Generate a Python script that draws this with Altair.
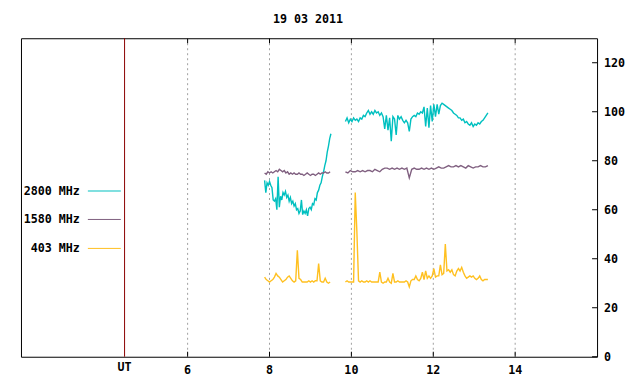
import altair as alt
import pandas as pd
import numpy as np

W, H = 577, 319
X_DOMAIN = [1.93, 16.0]
Y_DOMAIN = [0, 130]
FONT = "DejaVu Sans Mono"
FS = 11.7

title_text = "19 03 2011"
series_names = ["2800 MHz", "1580 MHz", "403 MHz"]
series_colors = ["#00c0c0", "#806080", "#ffc020"]

x_ticks = [6, 8, 10, 12, 14]
y_ticks = [0, 20, 40, 60, 80, 100, 120]
ut_hour = 4.46
ut_label = "UT"

# 2800 MHz, first segment (start hour, step in hours, values)
f2800_a_start, f2800_a_step = 7.88, 0.03
f2800_a = [72, 67, 71, 70, 71.5, 70, 69, 64, 63.5, 64.5, 60, 73.5, 61, 65.5, 64,
           67, 66, 67.5, 65, 66, 63.5, 65, 62.5, 63.5, 61.5, 62.5, 60, 60.5, 58.5,
           59.5, 64, 58, 59.5, 58.5, 60, 57.5, 60.5, 61, 60, 62.5, 62, 64.5, 64, 67,
           68, 70, 71, 73.5, 75.5, 78, 80, 83.5, 86, 89, 91]
# 2800 MHz, second segment
f2800_b_start, f2800_b_step = 9.854, 0.04
f2800_b = [96, 97.5, 95.5, 97, 96, 97.5, 96.5, 97, 96, 97.5, 97, 98.5, 98, 99.5,
           100.5, 99, 100, 99, 100.5, 99.5, 100, 98.5, 99.5, 98, 93, 98.5, 92.5, 97.5,
           88, 98, 97, 90.5, 98.5, 97, 98, 96.5, 95.5, 96.5, 95.5, 92, 97, 98, 98.5,
           98, 99.5, 99, 100, 99.5, 102, 94, 101.5, 93.5, 102.5, 96, 103, 98, 103, 99,
           102.5, 103.5, 103, 102.5, 102, 101.5, 101, 100.5, 99.5, 99, 98.5, 97.5,
           97.5, 96.5, 97, 95.5, 96, 95, 94.5, 95.5, 94, 95, 94.5, 95.5, 95, 96, 96.5,
           97.5, 98.5, 99.5]

# 1580 MHz
f1580_a_start, f1580_a_step = 7.88, 0.04
f1580_a = [75, 74.5, 75.5, 75, 75.5, 75, 75.5, 76, 75.5, 76.5, 76, 75.5, 76, 75,
           75.5, 74.5, 75, 74.5, 75, 74.5, 74.5, 75, 74.5, 74.5, 74, 74.5, 75, 74.5,
           74, 74.5, 74.5, 74, 74.5, 75, 74.5, 75, 75, 75.5, 75, 75, 75.5]
f1580_b_start, f1580_b_step = 9.854, 0.06
f1580_b = [75.5, 75, 76, 75.5, 75.5, 76, 75.5, 76, 75.5, 76, 76, 75.5, 76.5, 76,
           75.5, 76.5, 77, 77, 76.5, 77, 76.5, 77, 76.5, 77, 76.5, 77, 73, 76.5, 77,
           76.5, 76.5, 77, 76.5, 77, 76.5, 77, 76.5, 77, 77.5, 77, 77, 77.5, 78, 77.5,
           77.5, 78, 77.5, 78, 77.5, 77, 78, 77.5, 77, 77.5, 77.5, 78, 77.5, 77.5, 78]

# 403 MHz
f403_a_start, f403_a_step = 7.88, 0.04
f403_a = [32.5, 31.5, 31, 30.5, 31, 31.5, 32.5, 34, 33, 32.5, 31.5, 30.5, 31, 31.5,
          32.5, 33, 32, 31, 30.5, 31, 43.5, 32, 31.5, 30.5, 30.5, 30.5, 30.5, 31,
          30.5, 31, 30.5, 31, 31, 38, 31, 30.5, 30.5, 32, 30.5, 30, 30.5]
f403_b_start, f403_b_step = 9.854, 0.04
f403_b = [30.5, 31, 30.5, 30.5, 30.5, 30.5, 67, 51, 31, 30.5, 31, 30.5, 30.5, 31,
          30.5, 31, 30.5, 30.5, 30.5, 30.5, 30.5, 34.5, 30.5, 30, 30.5, 30.5, 32,
          30.5, 30, 34, 30.5, 30.5, 31, 30.5, 30.5, 30.5, 30.5, 31, 30.5, 28.5, 31,
          31.5, 31.5, 33, 31.5, 31, 32, 34.5, 31.5, 35, 32, 33, 32, 33, 36, 32.5, 33,
          33, 37.5, 33.5, 34, 46, 35, 35.5, 34.5, 35.5, 33.5, 33, 35, 36, 35, 36.5,
          34.5, 33, 32, 32.5, 33, 32.5, 33, 32, 31.5, 32, 33, 31.5, 31, 31.5, 31.5,
          31.5]

segments = [
    ("2800 MHz", "a", f2800_a_start, f2800_a_step, f2800_a),
    ("2800 MHz", "b", f2800_b_start, f2800_b_step, f2800_b),
    ("1580 MHz", "a", f1580_a_start, f1580_a_step, f1580_a),
    ("1580 MHz", "b", f1580_b_start, f1580_b_step, f1580_b),
    ("403 MHz", "a", f403_a_start, f403_a_step, f403_a),
    ("403 MHz", "b", f403_b_start, f403_b_step, f403_b),
]
rows = []
for name, seg, start, step, vals in segments:
    for i, v in enumerate(vals):
        rows.append({"t": round(start + i * step, 4), "v": v, "series": name,
                     "seg": name + seg})
df = pd.DataFrame(rows)

xs = alt.Scale(domain=X_DOMAIN, nice=False, zero=False)
ys = alt.Scale(domain=Y_DOMAIN, nice=False, zero=False)

xt_df = pd.DataFrame({"t": x_ticks, "label": [str(t) for t in x_ticks]})
yt_df = pd.DataFrame({"v": y_ticks, "label": [str(v) for v in y_ticks]})

txt = dict(font=FONT, fontSize=FS, fontWeight="bold", baseline="middle", color="black")

grid = alt.Chart(xt_df).mark_rule(color="#a0a0a0", strokeDash=[2, 3], strokeWidth=1).encode(
    x=alt.X("t:Q", scale=xs, axis=None), y=alt.value(0), y2=alt.value(H))
ut_rule = alt.Chart(pd.DataFrame({"t": [ut_hour]})).mark_rule(color="#8b0000", strokeWidth=1).encode(
    x=alt.X("t:Q", scale=xs, axis=None), y=alt.value(0), y2=alt.value(H))
bot_ticks = alt.Chart(xt_df).mark_rule(color="black").encode(
    x=alt.X("t:Q", scale=xs, axis=None), y=alt.value(H), y2=alt.value(H - 5))
top_ticks = alt.Chart(xt_df).mark_rule(color="black").encode(
    x=alt.X("t:Q", scale=xs, axis=None), y=alt.value(0), y2=alt.value(5))
right_ticks = alt.Chart(yt_df).mark_rule(color="black").encode(
    y=alt.Y("v:Q", scale=ys, axis=None), x=alt.value(W), x2=alt.value(W - 5))

x_labels = alt.Chart(xt_df).mark_text(align="center", **txt).encode(
    x=alt.X("t:Q", scale=xs, axis=None), y=alt.value(H + 13), text="label:N")
ut_text = alt.Chart(pd.DataFrame({"t": [ut_hour], "label": [ut_label]})).mark_text(
    align="center", **txt).encode(
    x=alt.X("t:Q", scale=xs, axis=None), y=alt.value(H + 10), text="label:N")
y_labels = alt.Chart(yt_df).mark_text(align="left", **txt).encode(
    y=alt.Y("v:Q", scale=ys, axis=None), x=alt.value(W + 7), text="label:N")
title = alt.Chart(pd.DataFrame({"label": [title_text]})).mark_text(align="center", **txt).encode(
    x=alt.value(W / 2 - 1), y=alt.value(-19), text="label:N")

color_scale = alt.Scale(domain=series_names, range=series_colors)
lines = alt.Chart(df).mark_line(strokeWidth=1.4, interpolate="linear").encode(
    x=alt.X("t:Q", scale=xs, axis=None),
    y=alt.Y("v:Q", scale=ys, axis=None),
    color=alt.Color("series:N", scale=color_scale, legend=None),
    detail="seg:N",
    order="t:Q",
)

leg_df = pd.DataFrame({"series": series_names, "ly": [153, 181.5, 210.5]})
leg_text = alt.Chart(leg_df).mark_text(align="right", **txt).encode(
    x=alt.value(59), y=alt.Y("ly:Q", scale=None), text="series:N")
leg_lines = alt.Chart(leg_df).mark_rule(strokeWidth=1).encode(
    x=alt.value(67), x2=alt.value(100), y=alt.Y("ly:Q", scale=None),
    color=alt.Color("series:N", scale=color_scale, legend=None))

chart = alt.layer(
    grid, ut_rule, lines, bot_ticks, top_ticks, right_ticks,
    x_labels, ut_text, y_labels, title, leg_lines, leg_text
).properties(
    width=W, height=H,
    autosize=alt.AutoSizeParams(type="none"),
    padding={"left": 13, "top": 30, "right": 35, "bottom": 20},
    background="white",
).configure_view(stroke="black", strokeWidth=1)

chart.save("out.html", embed_options={"renderer": "svg", "actions": False})
